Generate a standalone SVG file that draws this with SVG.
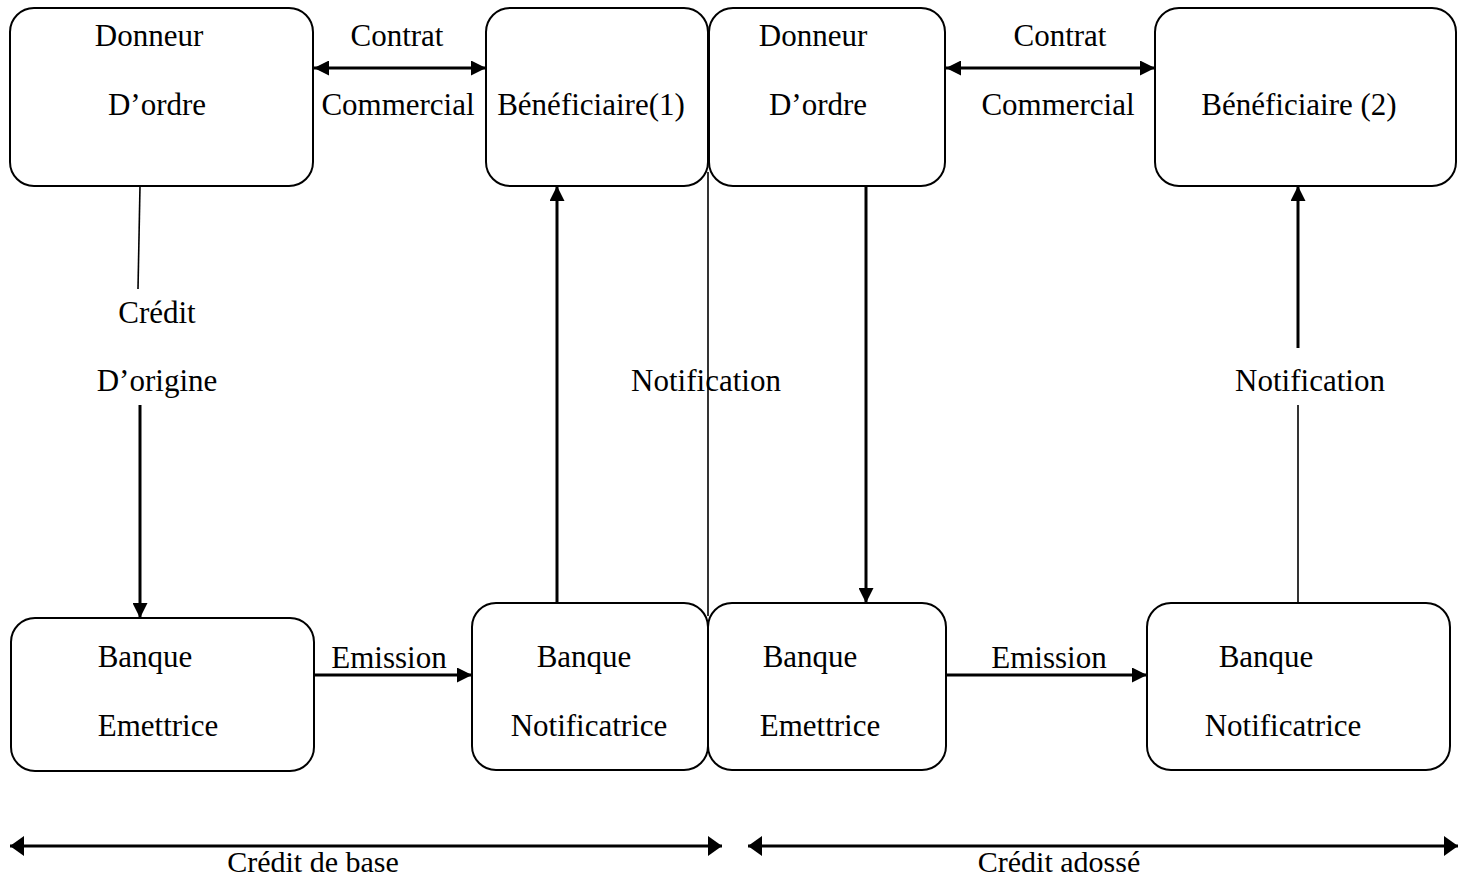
<svg xmlns="http://www.w3.org/2000/svg" width="1467" height="880" viewBox="0 0 1467 880">
  <style>
    .box { fill: #ffffff; stroke: #000000; stroke-width: 2; }
    .lbl { font-family: "Liberation Serif", "Times New Roman", serif; font-size: 31px; fill: #000000; text-anchor: middle; }
    .foot { font-size: 30px; }
    .arrow { stroke: #000000; stroke-width: 3; fill: none; }
    .thin { stroke: #000000; stroke-width: 1.6; fill: none; }
    .span { stroke: #000000; stroke-width: 3.2; fill: none; }
  </style>
  <defs>
    <marker id="head" viewBox="0 0 15 15" refX="15" refY="7.5" markerWidth="15" markerHeight="15" markerUnits="userSpaceOnUse" orient="auto-start-reverse">
      <path d="M0,0 L15,7.5 L0,15 Z" fill="#000000"/>
    </marker>
    <marker id="spanhead" viewBox="0 0 14 20" refX="14" refY="10" markerWidth="14" markerHeight="20" markerUnits="userSpaceOnUse" orient="auto-start-reverse">
      <path d="M0,0 L14,10 L0,20 Z" fill="#000000"/>
    </marker>
  </defs>

  <!-- connectors -->
  <g id="connectors">
    <!-- commercial contracts -->
    <line class="arrow" x1="314" y1="68" x2="486" y2="68" marker-start="url(#head)" marker-end="url(#head)"/>
    <line class="arrow" x1="946" y1="68" x2="1155" y2="68" marker-start="url(#head)" marker-end="url(#head)"/>
    <!-- original credit -->
    <line class="thin" x1="140" y1="186" x2="138" y2="289"/>
    <line class="arrow" x1="140" y1="405" x2="140" y2="618" marker-end="url(#head)"/>
    <!-- issuance -->
    <line class="arrow" x1="314" y1="675" x2="472" y2="675" marker-end="url(#head)"/>
    <line class="arrow" x1="946" y1="675" x2="1147" y2="675" marker-end="url(#head)"/>
    <!-- notification to first beneficiary -->
    <line class="arrow" x1="557" y1="603" x2="557" y2="186" marker-end="url(#head)"/>
    <!-- divider between the two credits -->
    <line class="thin" x1="708" y1="172" x2="708" y2="616"/>
    <!-- second applicant to issuing bank -->
    <line class="arrow" x1="866" y1="186" x2="866" y2="603" marker-end="url(#head)"/>
    <!-- notification to second beneficiary -->
    <line class="thin" x1="1298" y1="603" x2="1298" y2="405"/>
    <line class="arrow" x1="1298" y1="348" x2="1298" y2="186" marker-end="url(#head)"/>
    <!-- spans -->
    <line class="span" x1="10" y1="846" x2="722" y2="846" marker-start="url(#spanhead)" marker-end="url(#spanhead)"/>
    <line class="span" x1="748" y1="846" x2="1458" y2="846" marker-start="url(#spanhead)" marker-end="url(#spanhead)"/>
  </g>

  <!-- nodes -->
  <g id="donneur-1">
    <rect class="box" x="10" y="8" width="303" height="178" rx="24" ry="24"/>
    <text class="lbl" x="149" y="46">Donneur</text>
    <text class="lbl" x="157" y="115">D’ordre</text>
  </g>
  <g id="beneficiaire-1">
    <rect class="box" x="486" y="8" width="222" height="178" rx="24" ry="24"/>
    <text class="lbl" x="591" y="115">Bénéficiaire(1)</text>
  </g>
  <g id="donneur-2">
    <rect class="box" x="709" y="8" width="236" height="178" rx="24" ry="24"/>
    <text class="lbl" x="813" y="46">Donneur</text>
    <text class="lbl" x="818" y="115">D’ordre</text>
  </g>
  <g id="beneficiaire-2">
    <rect class="box" x="1155" y="8" width="301" height="178" rx="24" ry="24"/>
    <text class="lbl" x="1299" y="115">Bénéficiaire (2)</text>
  </g>
  <g id="banque-emettrice-1">
    <rect class="box" x="11" y="618" width="303" height="153" rx="24" ry="24"/>
    <text class="lbl" x="145" y="667">Banque</text>
    <text class="lbl" x="158" y="736">Emettrice</text>
  </g>
  <g id="banque-notificatrice-1">
    <rect class="box" x="472" y="603" width="236" height="167" rx="24" ry="24"/>
    <text class="lbl" x="584" y="667">Banque</text>
    <text class="lbl" x="589" y="736">Notificatrice</text>
  </g>
  <g id="banque-emettrice-2">
    <rect class="box" x="708" y="603" width="238" height="167" rx="24" ry="24"/>
    <text class="lbl" x="810" y="667">Banque</text>
    <text class="lbl" x="820" y="736">Emettrice</text>
  </g>
  <g id="banque-notificatrice-2">
    <rect class="box" x="1147" y="603" width="303" height="167" rx="24" ry="24"/>
    <text class="lbl" x="1266" y="667">Banque</text>
    <text class="lbl" x="1283" y="736">Notificatrice</text>
  </g>

  <!-- connector labels -->
  <g id="labels">
    <text class="lbl" x="397" y="46">Contrat</text>
    <text class="lbl" x="398" y="115">Commercial</text>
    <text class="lbl" x="1060" y="46">Contrat</text>
    <text class="lbl" x="1058" y="115">Commercial</text>
    <text class="lbl" x="157" y="323">Crédit</text>
    <text class="lbl" x="157" y="391">D’origine</text>
    <text class="lbl" x="389" y="668">Emission</text>
    <text class="lbl" x="1049" y="668">Emission</text>
    <text class="lbl" x="706" y="391">Notification</text>
    <text class="lbl" x="1310" y="391">Notification</text>
    <text class="lbl foot" x="313" y="872">Crédit de base</text>
    <text class="lbl foot" x="1059" y="872">Crédit adossé</text>
  </g>
</svg>
